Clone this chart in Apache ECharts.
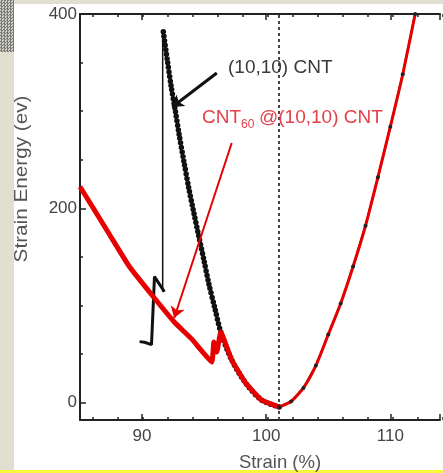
<!DOCTYPE html>
<html>
<head>
<meta charset="utf-8">
<script src="https://cdn.jsdelivr.net/npm/echarts@6.0.0/dist/echarts.min.js"></script>
<style>
html, body { margin: 0; padding: 0; }
#page { position: relative; width: 443px; height: 473px; background: #e1dfcf; overflow: hidden; }
#stipple { position: absolute; left: 0; top: 0; width: 14px; height: 52px;
  background: repeating-conic-gradient(#7a7a74 0 25%, #cfcfc6 0 50%) 0 0 / 3px 3px; }
#panel { position: absolute; left: 14px; top: 4px; width: 429px; height: 467px; background: #fff; }
#edge { position: absolute; left: 0; top: 470px; width: 443px; height: 3px; background: #f7f73c; }
#chart { position: absolute; left: 0; top: 0; width: 443px; height: 473px; }
</style>
</head>
<body>
<div id="page">
  <div id="stipple"></div>
  <div id="panel"></div>
  <div id="edge"></div>
  <div id="chart"></div>
</div>
<script>
// (10,10) CNT - jump part near 91 %
const stepStrain = [89.8, 90.2, 90.76, 91.0, 91.8];
const stepEnergy = [62.7, 62.0, 59.6, 129.6, 114];
const riserStrain = [91.66, 91.66];
const riserEnergy = [114, 381.5];
// (10,10) CNT - descending dotted branch
const descStrain = [91.71, 92.03, 92.35, 92.67, 92.99, 93.39, 93.79, 94.19, 94.58, 94.98, 95.38, 95.86, 96.34, 97.22, 98.34, 99.62, 101.05];
const descEnergy = [381.6, 352.8, 324.9, 301.2, 275.5, 246.7, 218.9, 194.1, 170.5, 146.8, 122.1, 97.3, 72.6, 43.8, 20.1, 2.6, -4.6];
// CNT60@(10,10) CNT - left branch
const redStrain = [85, 87.4, 89.0, 90.99, 92.59, 94.03, 95.62, 95.78, 96.02, 96.34, 97.22, 98.34, 99.62, 101.05];
const redEnergy = [222.2, 172.5, 139.5, 107.6, 82.9, 65.0, 41.7, 62.3, 52.0, 72.6, 43.8, 20.1, 2.6, -4.6];
// both - right (tensile) branch
const rightStrain = [101.05, 102, 103, 104, 105, 106, 107, 108, 109, 110, 111, 112];
const rightEnergy = [-4.6, 1, 15, 38, 70, 102, 140, 182, 232, 284, 338, 400];

const xTicks = [90, 100, 110];
const yTicks = [0, 200, 400];
const equilibrium = 101;

function pairs(xs, ys) { return xs.map((x, i) => [x, ys[i]]); }

const chart = echarts.init(document.getElementById('chart'));
const ink = '#222';
const font = 'Liberation Sans, Arial, sans-serif';
const red = '#e60000';
const redText = '#e4404a';

chart.setOption({
  animation: false,
  grid: [
    { left: 80, right: 0, top: 14, bottom: 53 },
    { left: 92.52, right: 0, top: 14, bottom: 53 },
    { left: 80, right: 0, top: 14, bottom: 70.5 }
  ],
  xAxis: [
    { gridIndex: 0, type: 'value', min: 85, max: 114, splitNumber: 3, position: 'bottom',
      axisLine: { onZero: false, lineStyle: { color: ink, width: 2 } },
      axisTick: { inside: true, length: 6, lineStyle: { color: ink, width: 1.5 } },
      axisLabel: { margin: 8, fontSize: 17, color: '#444', fontFamily: font,
        formatter: v => (xTicks.includes(v) ? String(v) : '') },
      splitLine: { show: false } },
    { gridIndex: 0, type: 'value', min: 85, max: 114, splitNumber: 3, position: 'top',
      axisLine: { onZero: false, lineStyle: { color: ink, width: 2 } },
      axisTick: { inside: true, length: 6, lineStyle: { color: ink, width: 1.5 } },
      axisLabel: { show: false }, splitLine: { show: false } },
    { gridIndex: 1, type: 'value', min: 86, max: 114, interval: 2, position: 'bottom',
      axisLine: { show: false, onZero: false },
      axisTick: { inside: true, length: 3, lineStyle: { color: ink, width: 1.5 } },
      axisLabel: { show: false }, splitLine: { show: false } },
    { gridIndex: 1, type: 'value', min: 86, max: 114, interval: 2, position: 'top',
      axisLine: { show: false, onZero: false },
      axisTick: { inside: true, length: 3, lineStyle: { color: ink, width: 1.5 } },
      axisLabel: { show: false }, splitLine: { show: false } },
    { gridIndex: 2, type: 'value', min: 85, max: 114, show: false }
  ],
  yAxis: [
    { gridIndex: 0, type: 'value', min: -18, max: 400, splitNumber: 2,
      axisLine: { show: true, onZero: false, lineStyle: { color: ink, width: 2 } },
      axisTick: { show: true, inside: true, length: 6, lineStyle: { color: ink, width: 1.5 } },
      axisLabel: { margin: 3, fontSize: 17, color: '#444', fontFamily: font,
        formatter: v => (yTicks.includes(v) ? String(v) : '') },
      splitLine: { show: false } },
    { gridIndex: 1, type: 'value', min: 0, max: 400, show: false },
    { gridIndex: 2, type: 'value', min: 0, max: 400, interval: 50,
      axisLine: { show: false, onZero: false },
      axisTick: { show: true, inside: true, length: 3, lineStyle: { color: ink, width: 1.5 } },
      axisLabel: { show: false }, splitLine: { show: false } }
  ],
  series: [
    { type: 'line', data: pairs(stepStrain, stepEnergy), symbol: 'none', z: 3,
      lineStyle: { color: '#111', width: 3 } },
    { type: 'line', data: pairs(riserStrain, riserEnergy), symbol: 'none', z: 3,
      lineStyle: { color: '#111', width: 1.5 } },
    { type: 'line', data: pairs(descStrain, descEnergy), symbol: 'none', smooth: 0.3, z: 3,
      lineStyle: { color: '#111', width: 2.5 },
      markLine: { silent: true, symbol: 'none', label: { show: false },
        lineStyle: { color: '#444', width: 2, type: [3, 3] },
        data: [{ xAxis: equilibrium }] } },
    { type: 'line', data: pairs(descStrain, descEnergy), symbol: 'none', smooth: 0.3, z: 3,
      lineStyle: { color: '#111', width: 5.5, type: [0, 4.5], cap: 'round' } },
    { type: 'line', data: pairs(rightStrain, rightEnergy), symbol: 'none', z: 3,
      lineStyle: { color: '#111', width: 2 } },
    { type: 'line', data: pairs(redStrain, redEnergy), symbol: 'none', smooth: 0.1, z: 5,
      lineStyle: { color: red, width: 5 },
      markLine: { silent: true, symbol: ['none', 'arrow'], symbolSize: 11, label: { show: false },
        data: [
          [{ coord: [97.22, 267.2] },
           { coord: [92.59, 87.0], lineStyle: { color: red, width: 2, type: 'solid' }, itemStyle: { color: red } }],
          [{ coord: [96.02, 339.3] },
           { coord: [92.43, 304.3], lineStyle: { color: '#111', width: 3, type: 'solid' }, itemStyle: { color: '#111' } }]
        ] } },
    { type: 'line', data: pairs(rightStrain, rightEnergy), symbol: 'none', smooth: 0.2, z: 6,
      lineStyle: { color: red, width: 3 } },
    { type: 'line', data: pairs(rightStrain, rightEnergy), symbol: 'circle', symbolSize: 4, z: 7,
      itemStyle: { color: '#222' }, lineStyle: { opacity: 0 } }
  ],
  graphic: [
    { type: 'text', x: 22, y: 179, rotation: Math.PI / 2, scaleX: 1.15,
      style: { text: 'Strain Energy (ev)', fill: '#555', fontSize: 18, fontFamily: font,
        textAlign: 'center', textVerticalAlign: 'middle' } },
    { type: 'text', x: 280, y: 463,
      style: { text: 'Strain (%)', fill: '#555', fontSize: 18.5, fontFamily: font,
        textAlign: 'center', textVerticalAlign: 'middle' } },
    { type: 'text', x: 228, y: 68, z: 10,
      style: { text: '(10,10) CNT', fill: '#3a3a3a', fontSize: 19, fontFamily: font,
        textAlign: 'left', textVerticalAlign: 'middle' } },
    { type: 'text', x: 202, y: 118, z: 10,
      style: { text: 'CNT', fill: redText, fontSize: 19, fontFamily: font,
        textAlign: 'left', textVerticalAlign: 'middle' } },
    { type: 'text', x: 241, y: 125, z: 10,
      style: { text: '60', fill: redText, fontSize: 12, fontFamily: font,
        textAlign: 'left', textVerticalAlign: 'middle' } },
    { type: 'text', x: 259, y: 118, z: 10,
      style: { text: '@(10,10) CNT', fill: redText, fontSize: 19, fontFamily: font,
        textAlign: 'left', textVerticalAlign: 'middle' } }
  ]
});
</script>
</body>
</html>
